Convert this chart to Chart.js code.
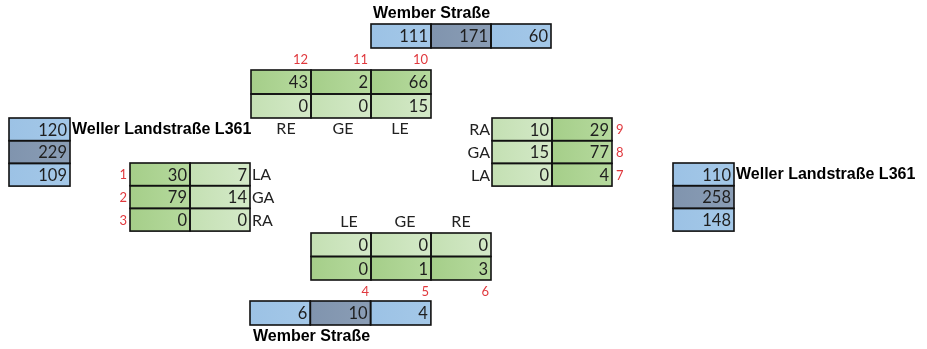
<!DOCTYPE html>
<html>
<head>
<meta charset="utf-8">
<script src="https://cdn.jsdelivr.net/npm/chart.js@4"></script>
<style>
  html, body { margin: 0; padding: 0; background: #fff; }
  #wrap { width: 927px; height: 349px; }
</style>
</head>
<body>
<div id="wrap"><canvas id="js-chart"></canvas></div>
<script>
// Daten der Zählstelle
const streetNorthSouth = 'Wember Straße';
const streetWestEast = 'Weller Landstraße L361';

const topTotals = [111, 171, 60];
const topRow1 = [43, 2, 66];
const topRow2 = [0, 0, 15];
const topTurns = ['RE', 'GE', 'LE'];
const topIds = ['12', '11', '10'];

const leftTotals = [120, 229, 109];
const leftCol1 = [30, 79, 0];
const leftCol2 = [7, 14, 0];
const leftTurns = ['LA', 'GA', 'RA'];
const leftIds = ['1', '2', '3'];

const rightTotals = [110, 258, 148];
const rightCol1 = [10, 15, 0];
const rightCol2 = [29, 77, 4];
const rightTurns = ['RA', 'GA', 'LA'];
const rightIds = ['9', '8', '7'];

const bottomRow1 = [0, 0, 0];
const bottomRow2 = [0, 1, 3];
const bottomTotals = [6, 10, 4];
const bottomTurns = ['LE', 'GE', 'RE'];
const bottomIds = ['4', '5', '6'];

// Farben
const FILL = {
  blue: ['#9cc2e5', '#a4c8e8'],
  slate: ['#8094ae', '#8a9db5'],
  dark: ['#a5ce89', '#b6da9e'],
  light: ['#c4e0b3', '#d4e9c8'],
};
const RED = '#e0393e';
const NUM_FONT = '16.5px Lato, "Open Sans", sans-serif';
const LBL_FONT = '16px Lato, "Open Sans", sans-serif';
const BOLD_FONT = 'bold 16px "Liberation Sans", Arial, sans-serif';
const ID_FONT = '13px Lato, "Open Sans", sans-serif';

const col = arr => arr.map(v => [v]);
const zip = (a, b) => a.map((v, i) => [v, b[i]]);

// Tabellen-Blöcke (Lage im Koordinatensystem 0..927 / 0..349)
const blocks = [
  { x0: 371, y0: 24, w: 60, h: 24, rows: [topTotals], fill: (r, c) => (c === 1 ? 'slate' : 'blue') },
  { x0: 251, y0: 70, w: 60, h: 24, rows: [topRow1, topRow2], fill: r => (r === 0 ? 'dark' : 'light') },
  { x0: 9, y0: 118, w: 61, h: 22.7, rows: col(leftTotals), fill: r => (r === 1 ? 'slate' : 'blue') },
  { x0: 130, y0: 163, w: 60, h: 22.7, rows: zip(leftCol1, leftCol2), fill: (r, c) => (c === 0 ? 'dark' : 'light') },
  { x0: 492, y0: 118, w: 60, h: 22.7, rows: zip(rightCol1, rightCol2), fill: (r, c) => (c === 0 ? 'light' : 'dark') },
  { x0: 673, y0: 163, w: 61, h: 22.7, rows: col(rightTotals), fill: r => (r === 1 ? 'slate' : 'blue') },
  { x0: 311, y0: 233, w: 60, h: 23.5, rows: [bottomRow1, bottomRow2], fill: r => (r === 0 ? 'light' : 'dark') },
  { x0: 250, y0: 301, w: 60.3, h: 24, rows: [bottomTotals], fill: (r, c) => (c === 1 ? 'slate' : 'blue') },
];

// Beschriftungen
const labels = [
  { t: streetNorthSouth, x: 373, y: 14, a: 'left', f: BOLD_FONT, c: '#000' },
  { t: streetWestEast, x: 72, y: 130, a: 'left', f: BOLD_FONT, c: '#000' },
  { t: streetWestEast, x: 736, y: 175, a: 'left', f: BOLD_FONT, c: '#000' },
  { t: streetNorthSouth, x: 253, y: 337, a: 'left', f: BOLD_FONT, c: '#000' },
];
topTurns.forEach((t, i) => labels.push({ t, x: 286 + i * 57, y: 129, a: 'center', f: LBL_FONT, c: '#222' }));
topIds.forEach((t, i) => labels.push({ t, x: 308 + i * 60, y: 60, a: 'right', f: ID_FONT, c: RED }));
leftTurns.forEach((t, i) => labels.push({ t, x: 252, y: 175 + i * 22.7, a: 'left', f: LBL_FONT, c: '#222' }));
leftIds.forEach((t, i) => labels.push({ t, x: 127, y: 175 + i * 22.7, a: 'right', f: ID_FONT, c: RED }));
rightTurns.forEach((t, i) => labels.push({ t, x: 490, y: 130 + i * 22.7, a: 'right', f: LBL_FONT, c: '#222' }));
rightIds.forEach((t, i) => labels.push({ t, x: 616, y: 130 + i * 22.7, a: 'left', f: ID_FONT, c: RED }));
bottomTurns.forEach((t, i) => labels.push({ t, x: 349 + i * 56, y: 222, a: 'center', f: LBL_FONT, c: '#222' }));
bottomIds.forEach((t, i) => labels.push({ t, x: 369 + i * 60, y: 292, a: 'right', f: ID_FONT, c: RED }));

// zeichnet Zellen und Texte über die Skalen des Charts
const tablePlugin = {
  id: 'trafficTables',
  afterDatasetsDraw(chart) {
    const { ctx, scales: { x, y } } = chart;
    const px = v => x.getPixelForValue(v);
    const py = v => y.getPixelForValue(v);
    ctx.save();
    blocks.forEach(b => {
      b.rows.forEach((row, r) => {
        row.forEach((val, c) => {
          const l = px(b.x0 + c * b.w);
          const rr = px(b.x0 + (c + 1) * b.w);
          const t = py(b.y0 + r * b.h);
          const bt = py(b.y0 + (r + 1) * b.h);
          const [c1, c2] = FILL[b.fill(r, c)];
          const g = ctx.createLinearGradient(l, t, rr, t);
          g.addColorStop(0, c1);
          g.addColorStop(1, c2);
          ctx.fillStyle = g;
          ctx.fillRect(l, t, rr - l, bt - t);
          ctx.fillStyle = '#1f1f1f';
          ctx.font = NUM_FONT;
          ctx.textAlign = 'right';
          ctx.textBaseline = 'middle';
          ctx.fillText(String(val), rr - 3, (t + bt) / 2 + 1);
        });
      });
      // Rahmen
      ctx.strokeStyle = '#111';
      ctx.lineWidth = 1.6;
      b.rows.forEach((row, r) => {
        row.forEach((val, c) => {
          const l = px(b.x0 + c * b.w);
          const rr = px(b.x0 + (c + 1) * b.w);
          const t = py(b.y0 + r * b.h);
          const bt = py(b.y0 + (r + 1) * b.h);
          ctx.strokeRect(l, t, rr - l, bt - t);
        });
      });
    });
    labels.forEach(lb => {
      ctx.font = lb.f;
      ctx.fillStyle = lb.c;
      ctx.textAlign = lb.a;
      ctx.textBaseline = 'middle';
      ctx.fillText(lb.t, px(lb.x), py(lb.y));
    });
    ctx.restore();
  },
};

const ctx = document.querySelector('#js-chart').getContext('2d');
new Chart(ctx, {
  type: 'scatter',
  data: { datasets: [{ data: [], pointRadius: 0 }] },
  options: {
    responsive: true,
    maintainAspectRatio: false,
    animation: false,
    layout: { padding: 0 },
    scales: {
      x: { type: 'linear', min: 0, max: 927, display: false },
      y: { type: 'linear', min: 0, max: 349, reverse: true, display: false },
    },
    plugins: { legend: { display: false }, tooltip: { enabled: false } },
  },
  plugins: [tablePlugin],
});
</script>
</body>
</html>
